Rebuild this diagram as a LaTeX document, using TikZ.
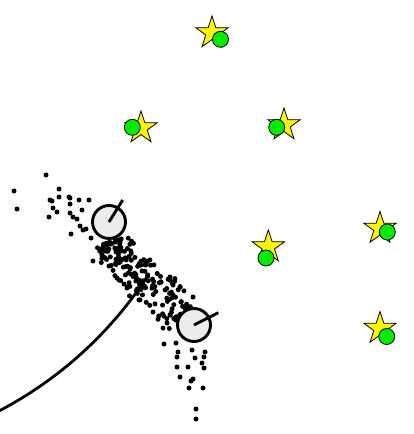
\documentclass[tikz,border=0pt]{standalone}
\usetikzlibrary{shapes.geometric}

\definecolor{starfill}{RGB}{255,245,0}
\definecolor{seengreen}{RGB}{0,235,0}
\tikzset{
  landmark/.style={star,star points=5,star point ratio=2.6,minimum size=34pt,
    inner sep=0pt,draw=black,line width=0.8pt,fill=starfill},
  seen/.style={circle,minimum size=16pt,inner sep=0pt,draw=black,
    line width=0.8pt,fill=seengreen},
  pose/.style={circle,minimum size=33pt,inner sep=0pt,draw=black,
    line width=2.9pt,fill=gray!15},
  particle/.style={fill=black}
}

\begin{document}
\begin{tikzpicture}[x=1pt,y=-1pt]
  \useasboundingbox (0,0) rectangle (414,434);

  % particle cloud: a dense band plus the scattered ones
  \pgfmathsetseed{42}
  \foreach \i in {1,...,175} {
    \pgfmathsetmacro{\t}{rnd}
    \pgfmathsetmacro{\s}{(rand+rand)*12}
    \fill[particle] ({104+80*\t+0.7*\s},{240+76*\t-0.72*\s}) circle (2.5);
  }
  \foreach \p in {(46,175),(14,191),(17,209),(59,189),(50,200),(52,201),
      (59,197),(69,197),(70,198),(79,200),(89,200),(70,204),(53,208),
      (57,212),(49,217),(82,210),(70,213),(73,217),(77,219),(80,226),
      (83,230),(86,229),(71,234),(91,238),(103,247),(102,249),(105,250),
      (93,261),(109,266),(117,278),(119,280),(124,284),(127,288),
      (173,285),(180,287),(193,297),(170,277),(153,312),
      (167,323),(163,328),(164,344),(176,343),(178,352),(177,357),
      (192,350),(205,352),(204,357),(195,358),(202,363),(177,367),
      (188,367),(204,368),(180,377),(193,379),(191,381),(189,388),
      (203,388),(196,409),(196,419)}
    \fill[particle] \p circle (2.5);

  % trajectory
  \draw[line width=2.8pt] plot[domain=33.3:62.5,samples=40]
    ({-185.6+398*cos(\x)},{58.4+398*sin(\x)});

  % robot poses
  \node[pose] (p1) at (109,222) {};
  \coordinate (h1) at (122.7,200);
  \draw[line width=2.9pt] (p1.center) -- (h1);
  \node[pose] (p2) at (194,325) {};
  \coordinate (h2) at (218.3,312.7);
  \draw[line width=2.9pt] (p2.center) -- (h2);

  % landmarks and their observations
  \node[landmark] (lm1) at (212,33) {};
  \node[seen] (ob1) at (220.5,39.3) {};
  \node[landmark] (lm2) at (141,128) {};
  \node[seen] (ob2) at (132.3,127.3) {};
  \node[landmark] (lm3) at (284,125) {};
  \node[seen] (ob3) at (276.7,127.3) {};
  \node[landmark] (lm4) at (268.3,247) {};
  \node[seen] (ob4) at (266,258) {};
  \node[landmark] (lm5) at (380,228.5) {};
  \node[seen] (ob5) at (387.3,232) {};
  \node[landmark] (lm6) at (380,328.5) {};
  \node[seen] (ob6) at (386.7,336.5) {};
\end{tikzpicture}
\end{document}
